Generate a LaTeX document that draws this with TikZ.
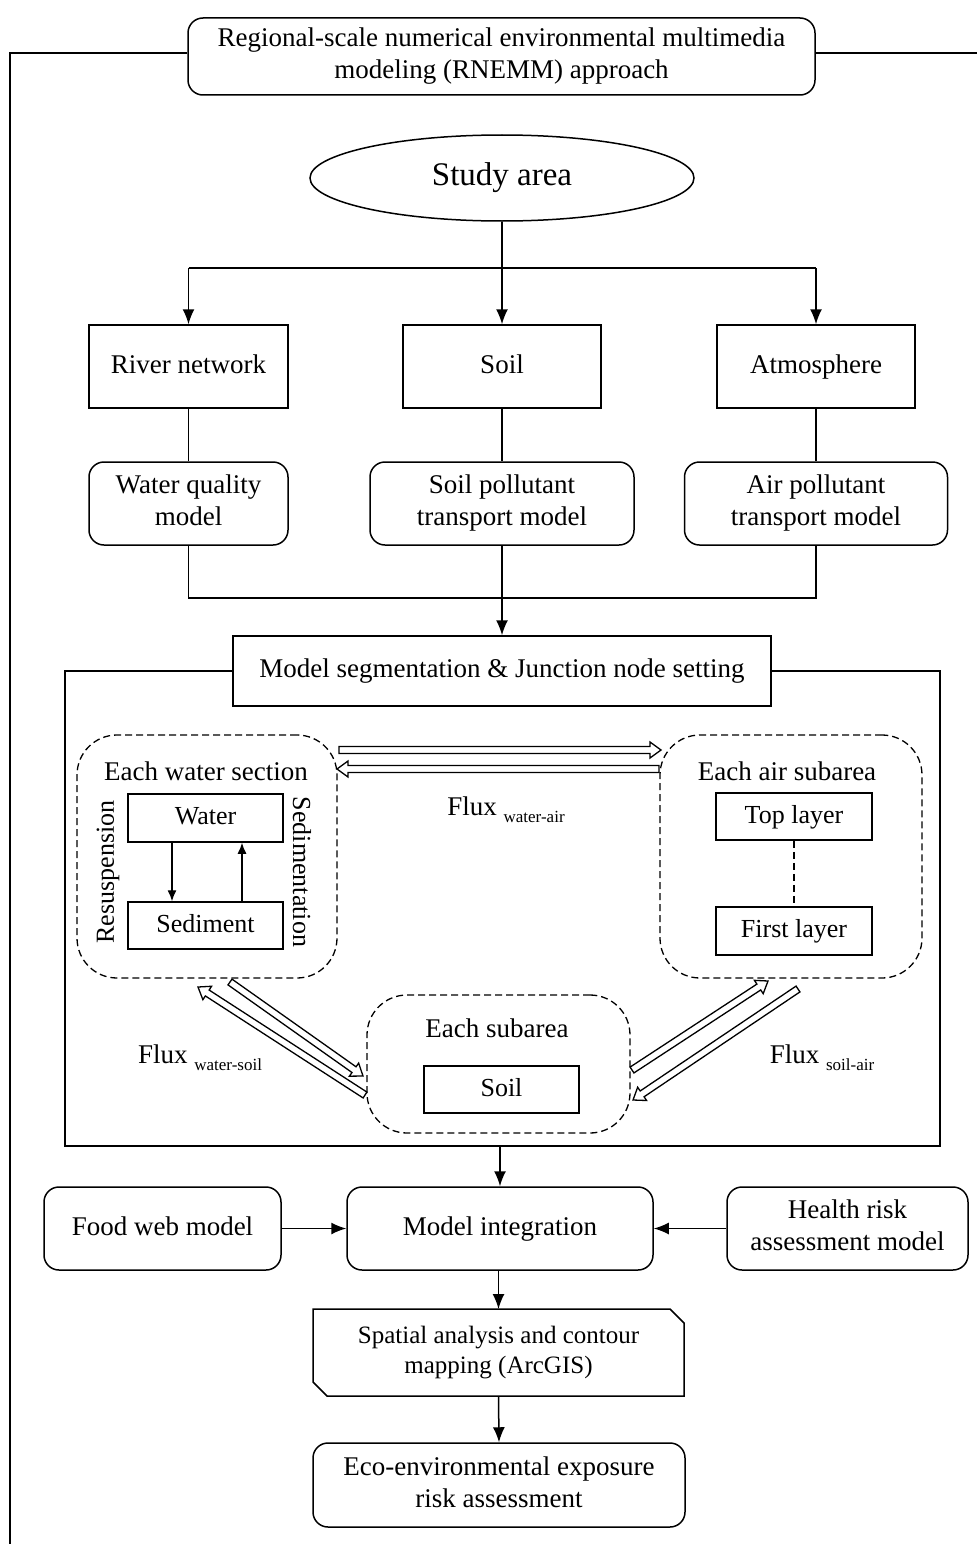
\documentclass[tikz,border=0pt]{standalone}
\usepackage{fontspec}
\setmainfont{Liberation Serif}
\usetikzlibrary{arrows.meta,calc,shapes.geometric,positioning}

\newcommand{\boxstrut}{\rule[-6pt]{0pt}{25pt}}
\tikzset{
  every node/.style={font=\fontsize{27}{32}\selectfont},
  sqbox/.style={draw, line width=1.5pt, align=center, inner sep=0pt,
    execute at begin node=\boxstrut, execute at end node=\boxstrut},
  rndbox/.style={draw, line width=1.5pt, rounded corners=15pt, align=center, inner sep=0pt,
    execute at begin node=\boxstrut, execute at end node=\boxstrut},
  dashbox/.style={draw, line width=1.3pt, dash pattern=on 7pt off 4pt, rounded corners=40pt},
  conn/.style={line width=1.5pt},
  arr/.style={line width=1.5pt, -{Latex[length=15pt,width=12pt]}},
  smallarr/.style={line width=1.3pt, -{Latex[length=11pt,width=9pt]}},
}

% hollow arrow between two named coordinates
\newcommand{\fluxarrow}[2]{%
  \coordinate (neck) at ($(#2)!11pt!(#1)$);
  \draw[line width=1.3pt, line join=miter]
    ($(#1)!3.5pt!90:(#2)$) -- ($(neck)!3.5pt!90:(#2)$) -- ($(neck)!8pt!90:(#2)$)
    -- (#2) -- ($(neck)!8pt!-90:(#2)$) -- ($(neck)!3.5pt!-90:(#2)$)
    -- ($(#1)!3.5pt!-90:(#2)$) -- cycle;}

\begin{document}
\begin{tikzpicture}[x=1pt,y=-1pt]
\useasboundingbox (0,0) rectangle (977,1544);
%\draw[help lines] (0,0) grid[step=50pt] (977,1544);
%
\node[rndbox, minimum width=627pt, minimum height=77pt] (title) at (501.5,56.5)
  {Regional-scale numerical environmental multimedia\\modeling (RNEMM) approach};
\coordinate (tl) at (10,53);
\draw[conn] (tl -| title.west) -- (tl) -- (10,1544);
\draw[conn] (tl -| title.east) -- (977,53);
%
\node[draw, line width=1.5pt, ellipse, minimum width=384pt, minimum height=86pt,
  font=\fontsize{33}{36}\selectfont] (study) at (502,178) {\strut Study area};
%
\node[sqbox, minimum width=199pt, minimum height=83pt] (river) at (188.5,366.5) {River network};
\node[sqbox, minimum width=198pt, minimum height=83pt] (soil) at (502,366.5) {Soil};
\node[sqbox, minimum width=198pt, minimum height=83pt] (atmo) at (816,366.5) {Atmosphere};
\node[rndbox, minimum width=199pt, minimum height=83pt] (wqm) at (188.5,503.5) {Water quality\\model};
\node[rndbox, minimum width=264pt, minimum height=83pt] (spm) at (502,503.5) {Soil pollutant\\transport model};
\node[rndbox, minimum width=263pt, minimum height=83pt] (apm) at (816,503.5) {Air pollutant\\transport model};
%
\coordinate (split) at (502,268);
\draw[conn] (study.south) -- (split);
\draw[conn] (split -| river.north) -- (split -| atmo.north);
\draw[arr] (split -| river.north) -- (river.north);
\draw[arr] (split) -- (soil.north);
\draw[arr] (split -| atmo.north) -- (atmo.north);
\draw[conn] (river.south) -- (wqm.north);
\draw[conn] (soil.south) -- (spm.north);
\draw[conn] (atmo.south) -- (apm.north);
%
\node[sqbox, minimum width=538pt, minimum height=70pt] (seg) at (502,671)
  {Model segmentation \& Junction node setting};
\coordinate (join) at (502,598);
\draw[conn] (wqm.south) -- (wqm.south |- join) -- (apm.south |- join) -- (apm.south);
\draw[arr] (spm.south) -- (seg.north);
\draw[conn] (seg.west) -- (65,671) -- (65,1146) -- (940,1146) -- (940,671) -- (seg.east);
%
% water section
\node[dashbox, minimum width=260pt, minimum height=243pt] (wsec) at (207,856.5) {};
\node (wlab) at (206,771) {Each water section};
\node[sqbox, minimum width=155pt, minimum height=48pt, font=\fontsize{26}{30}\selectfont] (water) at (205.5,818) {Water};
\node[sqbox, minimum width=155pt, minimum height=47pt, font=\fontsize{26}{30}\selectfont] (sed) at (205.5,925.5) {Sediment};
\draw[smallarr] ([xshift=-33.5pt]water.south) -- ([xshift=-33.5pt]sed.north);
\draw[smallarr] ([xshift=36.5pt]sed.north) -- ([xshift=36.5pt]water.south);
\node[rotate=90, font=\fontsize{26}{30}\selectfont] (resus) at (108,872) {Resuspension};
\node[rotate=-90, font=\fontsize{26}{30}\selectfont] (sedim) at (302,872) {Sedimentation};
%
% air subarea
\node[dashbox, minimum width=262pt, minimum height=243pt] (asec) at (791,856.5) {};
\node (alab) at (787,771) {Each air subarea};
\node[sqbox, minimum width=156pt, minimum height=47pt, font=\fontsize{26}{30}\selectfont] (top) at (794,816.5) {Top layer};
\node[sqbox, minimum width=156pt, minimum height=48pt, font=\fontsize{26}{30}\selectfont] (first) at (794,931) {First layer};
\draw[line width=1.3pt, dash pattern=on 7pt off 4pt] (top.south) -- (first.north);
%
% soil subarea
\node[dashbox, minimum width=263pt, minimum height=138pt] (ssec) at (498.5,1064) {};
\node (slab) at (497,1028) {Each subarea};
\node[sqbox, minimum width=155pt, minimum height=47pt, font=\fontsize{26}{30}\selectfont] (ssoil) at (501.5,1089.5) {Soil};
%
% fluxes
\coordinate (wa1) at (339,750);   \coordinate (wa2) at (661,750);
\coordinate (aw1) at (659,769);   \coordinate (aw2) at (337,769);
\coordinate (ws1) at (230,982);   \coordinate (ws2) at (363,1076);
\coordinate (sw1) at (365,1095);  \coordinate (sw2) at (198,987);
\coordinate (sa1) at (632,1070);  \coordinate (sa2) at (768,981);
\coordinate (as1) at (798,989);   \coordinate (as2) at (633,1100);
\fluxarrow{wa1}{wa2}
\fluxarrow{aw1}{aw2}
\fluxarrow{ws1}{ws2}
\fluxarrow{sw1}{sw2}
\fluxarrow{sa1}{sa2}
\fluxarrow{as1}{as2}
\node (fwa) at (506,810) {Flux \raisebox{-7pt}{\fontsize{17}{20}\selectfont water-air}};
\node (fws) at (200,1058) {Flux \raisebox{-7pt}{\fontsize{17}{20}\selectfont water-soil}};
\node (fsa) at (822,1058) {Flux \raisebox{-7pt}{\fontsize{17}{20}\selectfont soil-air}};
%
% integration
\node[rndbox, minimum width=306pt, minimum height=83pt] (integ) at (500,1228.5) {Model integration};
\node[rndbox, minimum width=237pt, minimum height=83pt] (food) at (162.5,1228.5) {Food web model};
\node[rndbox, minimum width=241pt, minimum height=83pt] (health) at (847.5,1228.5) {Health risk\\assessment model};
\draw[arr] (integ.north |- 0,1146) -- (integ.north);
\draw[arr] (food.east) -- (integ.west);
\draw[arr] (health.west) -- (integ.east);
%
\node[align=center, inner sep=0pt, outer sep=0pt, minimum width=371pt, minimum height=87pt,
  font=\fontsize{25}{30}\selectfont] (gis) at (498.5,1352.5)
  {Spatial analysis and contour\\mapping (ArcGIS)};
\draw[conn] (gis.north west) -- ([xshift=-14pt]gis.north east) -- ([yshift=-14pt]gis.north east)
  -- (gis.south east) -- ([xshift=14pt]gis.south west) -- ([yshift=14pt]gis.south west) -- cycle;
\draw[arr] (integ.south -| gis.north) -- (gis.north);
%
\node[rndbox, minimum width=372pt, minimum height=84pt] (eco) at (499,1485) {Eco-environmental exposure\\risk assessment};
\draw[arr] (gis.south) -- (eco.north);
\end{tikzpicture}
\end{document}
